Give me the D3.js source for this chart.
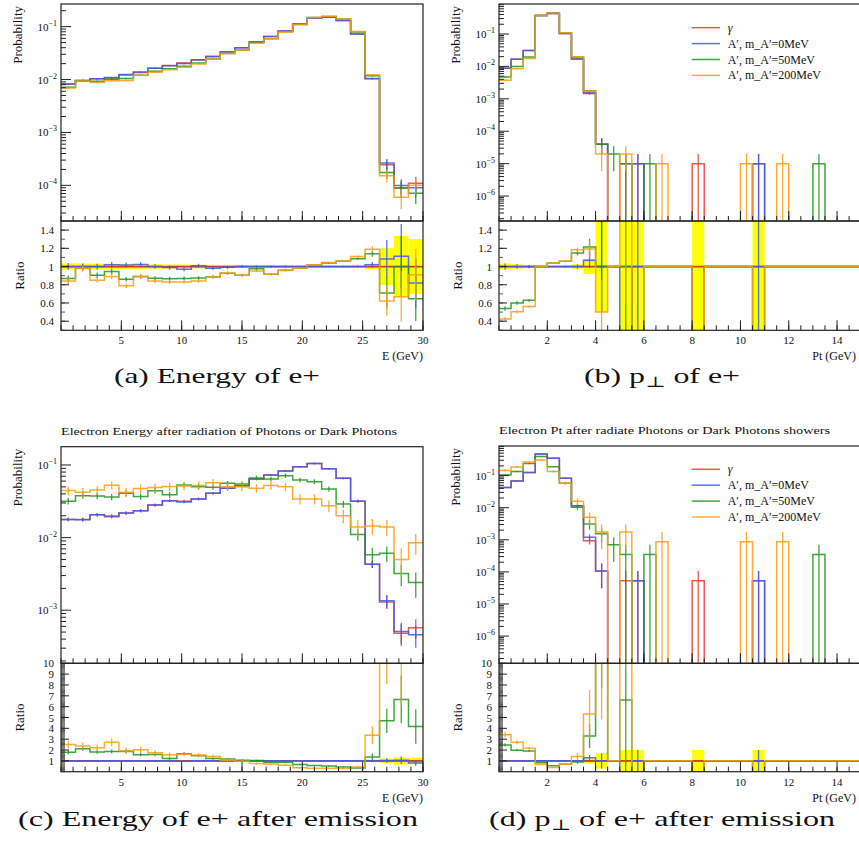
<!DOCTYPE html>
<html>
<head>
<meta charset="utf-8">
<script src="https://cdn.jsdelivr.net/npm/d3@7"></script>
<style>
  body { margin: 0; background: #fff; }
  svg { display: block; }
  text { font-family: "Liberation Serif", "DejaVu Serif", serif; fill: #111; }
</style>
</head>
<body>
<svg id="chart" width="859" height="860"></svg>

<script>

  // ---- data ----
  var energyBinWidth = 1.2;   // GeV, 25 bins from 0 to 30
  var ptBinWidth = 0.5;       // GeV, 33 bins from 0 to 16.5
  var energyBins = d3.range(25).map(function(i) { return i * energyBinWidth; });
  var ptBins = d3.range(33).map(function(i) { return i * ptBinWidth; });

  var seriesLabels = ["γ", "A′, m_A′=0MeV", "A′, m_A′=50MeV", "A′, m_A′=200MeV"];
  var seriesColors = ["#ec3b2a", "#3b5cf0", "#1d961d", "#ff9c0f"];

  // weight of one entry (sets the error bars)
  var weightsBefore = [1e-5, 1e-5, 1e-5, 1e-5];
  var weightsAfter = [5.3e-5, 5.3e-5, 3.5e-4, 8.7e-4];

  // (a) energy of e+
  var aGamma = [0.0082, 0.0096, 0.0103, 0.0107, 0.0122, 0.0136, 0.0164, 0.0184, 0.0206, 0.0234, 0.0275, 0.0334, 0.0401,
                0.0512, 0.0648, 0.083, 0.112, 0.146, 0.150, 0.131, 0.0728, 0.0103, 2.45e-4, 8.9e-5, 1.1e-4];
  var aA0 = [0.0082, 0.0096, 0.0103, 0.0109, 0.0124, 0.0139, 0.0164, 0.0182, 0.0200, 0.0236, 0.0270, 0.0331, 0.0401,
             0.0512, 0.0648, 0.083, 0.112, 0.146, 0.150, 0.131, 0.0728, 0.0105, 2.65e-4, 9.9e-5, 9.0e-5];
  var aA50 = [0.00713, 0.00941, 0.00932, 0.01011, 0.01049, 0.0121, 0.01427, 0.01592, 0.01792, 0.02048, 0.02437, 0.03093, 0.03629,
              0.04992, 0.05929, 0.07968, 0.1103, 0.1489, 0.156, 0.1389, 0.0790, 0.01174, 1.74e-4, 8.9e-5, 7.1e-5];
  var aA200 = [0.00689, 0.00941, 0.00876, 0.00952, 0.00964, 0.0121, 0.01378, 0.01527, 0.0171, 0.01966, 0.02437, 0.03106, 0.03629,
               0.04864, 0.05929, 0.07935, 0.1103, 0.1489, 0.1566, 0.1389, 0.0808, 0.01226, 1.52e-4, 5.96e-5, 1.0e-4];

  // (b) pT of e+
  var bGamma = [0.0088, 0.0167, 0.031, 0.37, 0.43, 0.104, 0.0169, 0.00145, 4e-5, 0, 1e-5, 1e-5, 0, 0, 0, 0, 1e-5,
                0, 0, 0, 0, 1e-5, 0, 0, 0, 0, 0, 0, 0, 0, 0, 0, 0];
  var bA0 = [0.0088, 0.0167, 0.031, 0.37, 0.43, 0.104, 0.0169, 0.00155, 4e-5, 0, 0, 1e-5, 0, 0, 0, 0, 0,
             0, 0, 0, 0, 1e-5, 0, 0, 0, 0, 0, 0, 0, 0, 0, 0, 0];
  var bA50 = [0.00475, 0.0100, 0.0195, 0.37, 0.447, 0.110, 0.0194, 0.00176, 4e-5, 2e-5, 1e-5, 0, 1e-5, 0, 0, 0, 0,
              0, 0, 0, 0, 0, 0, 0, 0, 0, 1e-5, 0, 0, 0, 0, 0, 0];
  var bA200 = [0.00374, 0.0084, 0.0174, 0.37, 0.447, 0.110, 0.0200, 0.00173, 2e-5, 0, 2e-5, 0, 0, 1e-5, 0, 0, 0,
               0, 0, 0, 1e-5, 0, 0, 1e-5, 0, 0, 0, 0, 0, 0, 0, 0, 0];

  // (c) energy of e+ after emission
  var cGamma = [0.0178, 0.0178, 0.0206, 0.0194, 0.0218, 0.0234, 0.0281, 0.0322, 0.0318, 0.034, 0.0407, 0.0477, 0.0518,
                0.0641, 0.0728, 0.0826, 0.0948, 0.105, 0.0889, 0.0655, 0.0318, 0.0043, 0.0013, 4.8e-4, 5.75e-4];
  var cA0 = [0.0178, 0.0176, 0.0206, 0.0198, 0.0218, 0.0234, 0.0281, 0.0322, 0.031, 0.034, 0.0407, 0.0477, 0.0518,
             0.0641, 0.0728, 0.0826, 0.0948, 0.105, 0.0889, 0.0655, 0.0318, 0.0043, 0.00135, 5.1e-4, 4.6e-4];
  var cA50 = [0.0318, 0.0378, 0.0375, 0.0362, 0.0407, 0.0367, 0.0443, 0.0389, 0.053, 0.0502, 0.0493, 0.0559, 0.0549,
              0.0662, 0.0641, 0.0713, 0.0621, 0.0589, 0.0467, 0.029, 0.011, 0.0058, 0.0061, 0.0032, 0.0024];
  var cA200 = [0.0445, 0.042, 0.0453, 0.0525, 0.042, 0.0475, 0.049, 0.0505, 0.0515, 0.052, 0.057, 0.05, 0.05,
               0.048, 0.052, 0.05, 0.034, 0.034, 0.0275, 0.02, 0.014, 0.0145, 0.014, 0.005, 0.0085];

  // (d) pT of e+ after emission
  var dGamma = [0.0425, 0.068, 0.124, 0.47, 0.347, 0.083, 0.0115, 9.4e-4, 1.06e-4, 0, 5.3e-5, 5.3e-5, 0, 0, 0, 0, 5.3e-5,
                0, 0, 0, 0, 5.3e-5, 0, 0, 0, 0, 0, 0, 0, 0, 0, 0, 0];
  var dA0 = [0.0425, 0.068, 0.124, 0.47, 0.347, 0.083, 0.0115, 1.2e-3, 1.06e-4, 0, 0, 5.3e-5, 0, 0, 0, 0, 0,
             0, 0, 0, 0, 5.3e-5, 0, 0, 0, 0, 0, 0, 0, 0, 0, 0, 0];
  var dA50 = [0.105, 0.135, 0.236, 0.39, 0.19, 0.058, 0.0104, 0.0031, 0.00155, 7e-4, 3.5e-4, 0, 3.5e-4, 0, 0, 0, 0,
              0, 0, 0, 0, 0, 0, 0, 0, 0, 3.5e-4, 0, 0, 0, 0, 0, 0];
  var dA200 = [0.145, 0.185, 0.267, 0.307, 0.135, 0.058, 0.016, 0.005, 0.00174, 0, 0.00174, 0, 0, 8.7e-4, 0, 0, 0,
               0, 0, 0, 8.7e-4, 0, 0, 8.7e-4, 0, 0, 0, 0, 0, 0, 0, 0, 0];

  var ratioTicksFine = [0.4, 0.6, 0.8, 1, 1.2, 1.4];
  var ratioTicksWide = [1, 2, 3, 4, 5, 6, 7, 8, 9, 10];
  var energyTicks = [5, 10, 15, 20, 25, 30];
  var ptTicks = [2, 4, 6, 8, 10, 12, 14, 16];

  // ---- layout of the four panels ----
  var panels = [
    { data: [aGamma, aA0, aA50, aA200], weights: weightsBefore, bins: energyBins, binW: energyBinWidth,
      xDomain: [0, 30], xTicks: energyTicks, xMinor: 1, left: 61, right: 423, top: 4, split: 221, bottom: 330.3,
      logDomain: [-4.674, -0.572], ratioDomain: [0.3, 1.5], ratioTicks: ratioTicksFine, ratioMinor: 0.1,
      xLabel: "E (GeV)", caption: ["(a) Energy of e+"], capX: 217, capY: 383, capW: 206 },
    { data: [bGamma, bA0, bA50, bA200], weights: weightsBefore, bins: ptBins, binW: ptBinWidth,
      xDomain: [0, 16.4], xTicks: ptTicks, xMinor: 0.5, left: 499, right: 895, top: 4, split: 221, bottom: 330.3,
      logDomain: [-6.77, -0.074], ratioDomain: [0.3, 1.5], ratioTicks: ratioTicksFine, ratioMinor: 0.1,
      xLabel: "Pt (GeV)", caption: ["(b) p", "⊥", " of e+"], capX: 662, capY: 383, capW: 156,
      legendY: 27.7 },
    { data: [cGamma, cA0, cA50, cA200], weights: weightsAfter, bins: energyBins, binW: energyBinWidth,
      xDomain: [0, 30], xTicks: energyTicks, xMinor: 1, left: 61, right: 423, top: 446.7, split: 663.3, bottom: 771.7,
      logDomain: [-3.731, -0.748], ratioDomain: [0, 10], ratioTicks: ratioTicksWide, ratioMinor: 0.1,
      xLabel: "E (GeV)", caption: ["(c) Energy of e+ after emission"], capX: 218, capY: 826, capW: 400,
      title: "Electron Energy after radiation of Photons or Dark Photons", titleW: 336 },
    { data: [dGamma, dA0, dA50, dA200], weights: weightsAfter, bins: ptBins, binW: ptBinWidth,
      xDomain: [0, 16.4], xTicks: ptTicks, xMinor: 0.5, left: 499, right: 895, top: 446, split: 663.3, bottom: 771.7,
      logDomain: [-6.848, -0.078], ratioDomain: [0, 10], ratioTicks: ratioTicksWide, ratioMinor: 0.1,
      xLabel: "Pt (GeV)", caption: ["(d) p", "⊥", " of e+ after emission"], capX: 662, capY: 826, capW: 346,
      title: "Electron Pt after radiate Photons or Dark Photons showers", titleW: 331, legendY: 469.3 }
  ];

  var pageWidth = 859;
  var svg = d3.select("#chart");
  var defs = svg.append("defs");

  panels.forEach(function(p, pi) {
    var g = svg.append("g");
    var x = d3.scaleLinear().domain(p.xDomain).range([p.left, p.right]);
    var y = d3.scaleLog().domain([Math.pow(10, p.logDomain[0]), Math.pow(10, p.logDomain[1])]).range([p.split, p.top]);
    var yr = d3.scaleLinear().domain(p.ratioDomain).range([p.bottom, p.split]);

    defs.append("clipPath").attr("id", "cm" + pi).append("rect")
      .attr("x", p.left).attr("y", p.top).attr("width", p.right - p.left).attr("height", p.split - p.top);
    defs.append("clipPath").attr("id", "cr" + pi).append("rect")
      .attr("x", p.left).attr("y", p.split).attr("width", p.right - p.left).attr("height", p.bottom - p.split);

    var main = g.append("g").attr("clip-path", "url(#cm" + pi + ")");
    var ratio = g.append("g").attr("clip-path", "url(#cr" + pi + ")");

    var ref = p.data[0];
    var yv = function(v) { return v > 0 ? y(v) : p.split + 20; };
    var yrv = function(r) { return Math.max(p.split - 20, Math.min(p.bottom + 20, yr(r))); };
    var stepPath = function(vals, fy) {
      var d = "";
      vals.forEach(function(v, i) {
        var x0 = x(p.bins[i]), x1 = x(p.bins[i] + p.binW), yy = fy(v);
        d += (i === 0 ? "M" + x0 + "," + yy : "V" + yy) + "H" + x1;
      });
      return d;
    };

    // yellow band = relative error of the reference (gamma)
    ratio.selectAll("rect.band")
      .data(ref.map(function(v, i) { return { i: i, v: v }; }).filter(function(d) { return d.v > 0; }))
      .join("rect")
      .attr("class", "band")
      .attr("x", function(d) { return x(p.bins[d.i]); })
      .attr("width", function(d) { return x(p.bins[d.i] + p.binW) - x(p.bins[d.i]); })
      .attr("y", function(d) { return yrv(1 + Math.sqrt(d.v * p.weights[0]) / d.v); })
      .attr("height", function(d) {
        var rel = Math.sqrt(d.v * p.weights[0]) / d.v;
        return yrv(1 - rel) - yrv(1 + rel);
      })
      .attr("fill", "#ffff00");

    ratio.append("line")
      .attr("x1", p.left).attr("x2", p.right).attr("y1", yr(1)).attr("y2", yr(1))
      .attr("stroke", "#222").attr("stroke-width", 1.2);

    p.data.forEach(function(vals, si) {
      var col = seriesColors[si], w = p.weights[si];

      main.append("path")
        .attr("d", stepPath(vals, yv))
        .attr("fill", "none").attr("stroke", col).attr("stroke-width", 1.5).attr("stroke-opacity", 0.85);

      main.selectAll("line.err" + si)
        .data(vals.map(function(v, i) { return { i: i, v: v }; }).filter(function(d) { return d.v > 0; }))
        .join("line")
        .attr("class", "err" + si)
        .attr("x1", function(d) { return x(p.bins[d.i] + p.binW / 2); })
        .attr("x2", function(d) { return x(p.bins[d.i] + p.binW / 2); })
        .attr("y1", function(d) { return yv(d.v + Math.sqrt(d.v * w)); })
        .attr("y2", function(d) { return yv(d.v - Math.sqrt(d.v * w)); })
        .attr("stroke", col).attr("stroke-width", 1.3).attr("stroke-opacity", 0.85);

      var rat = vals.map(function(v, i) { return ref[i] > 0 ? v / ref[i] : 1; });
      ratio.append("path")
        .attr("d", stepPath(rat, yrv))
        .attr("fill", "none").attr("stroke", col).attr("stroke-width", 1.5).attr("stroke-opacity", 0.85);

      if (si > 0) {
        ratio.selectAll("line.rerr" + si)
          .data(vals.map(function(v, i) { return { i: i, v: v }; }).filter(function(d) { return d.v > 0 && ref[d.i] > 0; }))
          .join("line")
          .attr("class", "rerr" + si)
          .attr("x1", function(d) { return x(p.bins[d.i] + p.binW / 2); })
          .attr("x2", function(d) { return x(p.bins[d.i] + p.binW / 2); })
          .attr("y1", function(d) { return yrv(rat[d.i] + Math.sqrt(d.v * w) / ref[d.i]); })
          .attr("y2", function(d) { return yrv(rat[d.i] - Math.sqrt(d.v * w) / ref[d.i]); })
          .attr("stroke", col).attr("stroke-width", 1.3).attr("stroke-opacity", 0.85);
      }
    });

    // frames
    g.append("rect").attr("x", p.left).attr("y", p.top).attr("width", p.right - p.left).attr("height", p.split - p.top)
      .attr("fill", "none").attr("stroke", "#222").attr("stroke-width", 1.2);
    g.append("rect").attr("x", p.left).attr("y", p.split).attr("width", p.right - p.left).attr("height", p.bottom - p.split)
      .attr("fill", "none").attr("stroke", "#222").attr("stroke-width", 1.2);

    // x ticks (inside, pointing up) on main bottom and ratio bottom
    var xMinorTicks = d3.range(p.xDomain[0], p.xDomain[1] + 1e-9, p.xMinor);
    [p.split, p.bottom].forEach(function(yy) {
      g.selectAll(null).data(xMinorTicks).join("line")
        .attr("x1", function(d) { return x(d); }).attr("x2", function(d) { return x(d); })
        .attr("y1", yy).attr("y2", yy - 5).attr("stroke", "#222").attr("stroke-width", 1);
      g.selectAll(null).data(p.xTicks).join("line")
        .attr("x1", function(d) { return x(d); }).attr("x2", function(d) { return x(d); })
        .attr("y1", yy).attr("y2", yy - 10).attr("stroke", "#222").attr("stroke-width", 1);
    });
    // only label ticks that land inside the page
    g.selectAll(null).data(p.xTicks.filter(function(d) { return x(d) < pageWidth - 10; })).join("text")
      .attr("x", function(d) { return x(d); }).attr("y", p.bottom + 14)
      .attr("text-anchor", "middle").attr("font-size", 11).text(function(d) { return d; });
    g.append("text").attr("x", Math.min(p.right, pageWidth - 3)).attr("y", p.bottom + 30).attr("text-anchor", "end")
      .attr("font-size", 12).text(p.xLabel);

    // log y ticks
    var lo = p.logDomain[0], hi = p.logDomain[1];
    var majors = d3.range(Math.ceil(lo), Math.floor(hi) + 1);
    var minors = [];
    d3.range(Math.floor(lo), Math.ceil(hi)).forEach(function(k) {
      d3.range(2, 10).forEach(function(m) {
        var v = m * Math.pow(10, k);
        if (Math.log10(v) > lo && Math.log10(v) < hi) minors.push(v);
      });
    });
    g.selectAll(null).data(minors).join("line")
      .attr("x1", p.left).attr("x2", p.left + 5).attr("y1", function(d) { return y(d); }).attr("y2", function(d) { return y(d); })
      .attr("stroke", "#222").attr("stroke-width", 1);
    g.selectAll(null).data(majors).join("line")
      .attr("x1", p.left).attr("x2", p.left + 10)
      .attr("y1", function(d) { return y(Math.pow(10, d)); }).attr("y2", function(d) { return y(Math.pow(10, d)); })
      .attr("stroke", "#222").attr("stroke-width", 1);
    var lbl = g.selectAll(null).data(majors).join("text")
      .attr("x", p.left - 4).attr("y", function(d) { return y(Math.pow(10, d)) + 4; })
      .attr("text-anchor", "end").attr("font-size", 11);
    lbl.append("tspan").text("10");
    lbl.append("tspan").attr("dy", -5).attr("font-size", 8).text(function(d) { return "−" + Math.abs(d); });

    // ratio y ticks
    var rMinor = d3.range(p.ratioDomain[0], p.ratioDomain[1] + 1e-9, p.ratioMinor);
    g.selectAll(null).data(rMinor).join("line")
      .attr("x1", p.left).attr("x2", p.left + 4).attr("y1", function(d) { return yr(d); }).attr("y2", function(d) { return yr(d); })
      .attr("stroke", "#333").attr("stroke-width", 0.8);
    g.selectAll(null).data(p.ratioTicks).join("line")
      .attr("x1", p.left).attr("x2", p.left + 8).attr("y1", function(d) { return yr(d); }).attr("y2", function(d) { return yr(d); })
      .attr("stroke", "#222").attr("stroke-width", 1);
    g.selectAll(null).data(p.ratioTicks).join("text")
      .attr("x", p.left - 7).attr("y", function(d) { return yr(d) + 4; })
      .attr("text-anchor", "end").attr("font-size", 11).text(function(d) { return d3.format("~g")(d); });

    // axis titles
    g.append("text").attr("transform", "translate(" + (p.left - 39) + "," + (p.top + 2) + ") rotate(-90)")
      .attr("text-anchor", "end").attr("font-size", 13).text("Probability");
    g.append("text").attr("transform", "translate(" + (p.left - 37) + "," + ((p.split + p.bottom) / 2) + ") rotate(-90)")
      .attr("text-anchor", "middle").attr("font-size", 13).text("Ratio");

    if (p.title) {
      g.append("text").attr("x", p.left).attr("y", p.top - 12)
        .attr("font-family", "'Liberation Sans', Arial, sans-serif").attr("font-size", 11)
        .attr("textLength", p.titleW).attr("lengthAdjust", "spacingAndGlyphs").text(p.title);
    }

    if (p.legendY !== undefined) {
      var leg = g.selectAll(null).data(seriesLabels).join("g")
        .attr("transform", function(d, i) { return "translate(0," + (p.legendY + i * 15.9) + ")"; });
      leg.append("line").attr("x1", 691.7).attr("x2", 720).attr("y1", 0).attr("y2", 0)
        .attr("stroke", function(d, i) { return seriesColors[i]; }).attr("stroke-width", 1.5).attr("stroke-opacity", 0.85);
      leg.append("text").attr("x", 727.7).attr("y", 4).attr("font-size", 12)
        .attr("font-style", function(d, i) { return i === 0 ? "italic" : "normal"; })
        .text(function(d) { return d; });
    }

    // caption under the subfigure
    var cap = svg.append("text").attr("x", p.capX).attr("y", p.capY).attr("text-anchor", "middle")
      .attr("font-size", 22).attr("textLength", p.capW).attr("lengthAdjust", "spacingAndGlyphs");
    if (p.caption.length === 1) {
      cap.text(p.caption[0]);
    } else {
      cap.append("tspan").text(p.caption[0]);
      cap.append("tspan").attr("dy", 4).attr("font-size", 15).text(p.caption[1]);
      cap.append("tspan").attr("dy", -4).text(p.caption[2]);
    }
  });

</script>
</body>
</html>
